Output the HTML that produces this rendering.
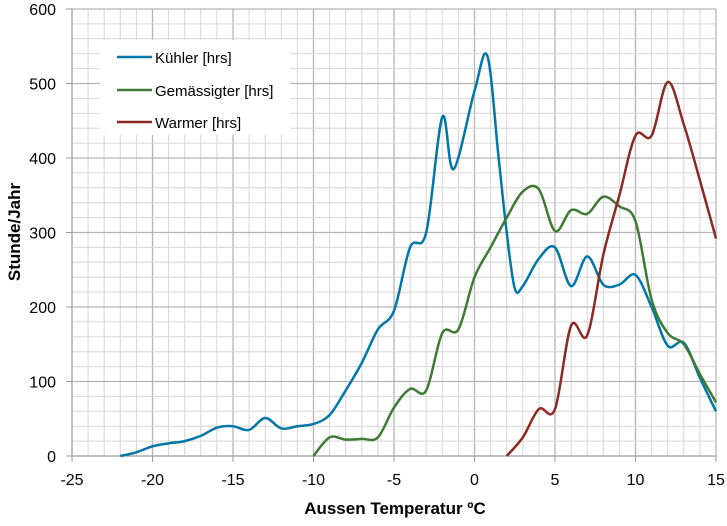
<!DOCTYPE html>
<html><head><meta charset="utf-8"><style>
body{margin:0;background:#fff;width:727px;height:521px;overflow:hidden}
text{font-family:"Liberation Sans",sans-serif}
</style></head><body>
<svg id="s" width="727" height="521" xmlns="http://www.w3.org/2000/svg"></svg>
<script>
const s=document.getElementById('s');
const X=t=>72+(t+25)*16.1, Y=v=>456-v*0.745;
let h='';
for(let t=-25;t<=15;t++){const maj=t%5==0;h+=`<line x1="${X(t)}" x2="${X(t)}" y1="${Y(600)}" y2="${Y(0)}" stroke="${maj?'#b5b5b5':'#d6d6d6'}" stroke-width="${maj?1.3:1}"/>`;}
for(let v=0;v<=600;v+=20){const maj=v%100==0;h+=`<line x1="${X(-25)}" x2="${X(15)}" y1="${Y(v)}" y2="${Y(v)}" stroke="${maj?'#b5b5b5':'#d6d6d6'}" stroke-width="${maj?1.3:1}"/>`;}
h+=`<line x1="${X(-25)}" x2="${X(-25)}" y1="${Y(600)}" y2="${Y(0)}" stroke="#999"/>`;
h+=`<line x1="${X(-25)}" x2="${X(15)}" y1="${Y(0)}" y2="${Y(0)}" stroke="#999"/>`;
for(let v=0;v<=600;v+=100){h+=`<line x1="66" x2="72" y1="${Y(v)}" y2="${Y(v)}" stroke="#999"/><text x="56" y="${Y(v)+6}" font-size="16" text-anchor="end">${v}</text>`;}
for(let t=-25;t<=15;t+=5){h+=`<line x1="${X(t)}" x2="${X(t)}" y1="456" y2="462" stroke="#999"/><text x="${X(t)}" y="485" font-size="16" text-anchor="middle">${t}</text>`;}
h+=`<text x="395" y="514" font-size="17" font-weight="bold" text-anchor="middle">Aussen Temperatur ºC</text>`;
h+=`<text transform="translate(20,232) rotate(-90)" font-size="17" font-weight="bold" text-anchor="middle">Stunde/Jahr</text>`;
function path(p){let pts=p.map(a=>[X(a[0]),Y(a[1])]);let d=`M${pts[0][0]},${pts[0][1]}`;
for(let i=0;i<pts.length-1;i++){const p0=pts[i-1]||pts[i],p1=pts[i],p2=pts[i+1],p3=pts[i+2]||p2;
d+=`C${p1[0]+(p2[0]-p0[0])/6},${p1[1]+(p2[1]-p0[1])/6} ${p2[0]-(p3[0]-p1[0])/6},${p2[1]-(p3[1]-p1[1])/6} ${p2[0]},${p2[1]}`;}return d;}
const K=[[-22,0],[-21,5],[-20,13],[-19,17],[-18,20],[-17,27],[-16,38],[-15,40],[-14,35],[-13,51],[-12,37],[-11,40],[-10,43],[-9,55],[-8,88],[-7,125],[-6,170],[-5,195],[-4,280],[-3,300],[-2,455],[-1.3,385],[0,490],[0.8,537],[1.5,400],[2,300],[2.5,225],[3,228],[4,265],[5,280],[6,228],[7,268],[8,230],[9,230],[10,243],[11,200],[12,148],[13,152],[14,105],[15,60]];
const G=[[-10,0],[-9,25],[-8,22],[-7,23],[-6,25],[-5,65],[-4,90],[-3,88],[-2,165],[-1,170],[0,240],[1,280],[2,320],[3,355],[4,358],[5,302],[6,330],[7,325],[8,348],[9,335],[10,315],[11,210],[12,165],[13,150],[14,110],[15,72]];
const W=[[2,0],[3,25],[4,63],[5,63],[6,175],[7,162],[8,270],[9,350],[10,430],[11,430],[12,502],[13,445],[14,370],[15,292]];
h+=`<path d="${path(K)}" fill="none" stroke="#0077a8" stroke-width="2.5"/>`;
h+=`<path d="${path(G)}" fill="none" stroke="#3f7a35" stroke-width="2.5"/>`;
h+=`<path d="${path(W)}" fill="none" stroke="#8b2a25" stroke-width="2.5"/>`;
h+=`<rect x="100" y="40" width="190" height="95" fill="#fff"/>`;
[['Kühler [hrs]','#0077a8',57],['Gemässigter [hrs]','#3f7a35',90],['Warmer [hrs]','#8b2a25',122]].forEach(([t,c,y])=>{
h+=`<line x1="117" x2="152" y1="${y}" y2="${y}" stroke="${c}" stroke-width="2.5"/><text x="155" y="${y+6}" font-size="15">${t}</text>`;});
s.innerHTML=h;
</script>
</body></html>
